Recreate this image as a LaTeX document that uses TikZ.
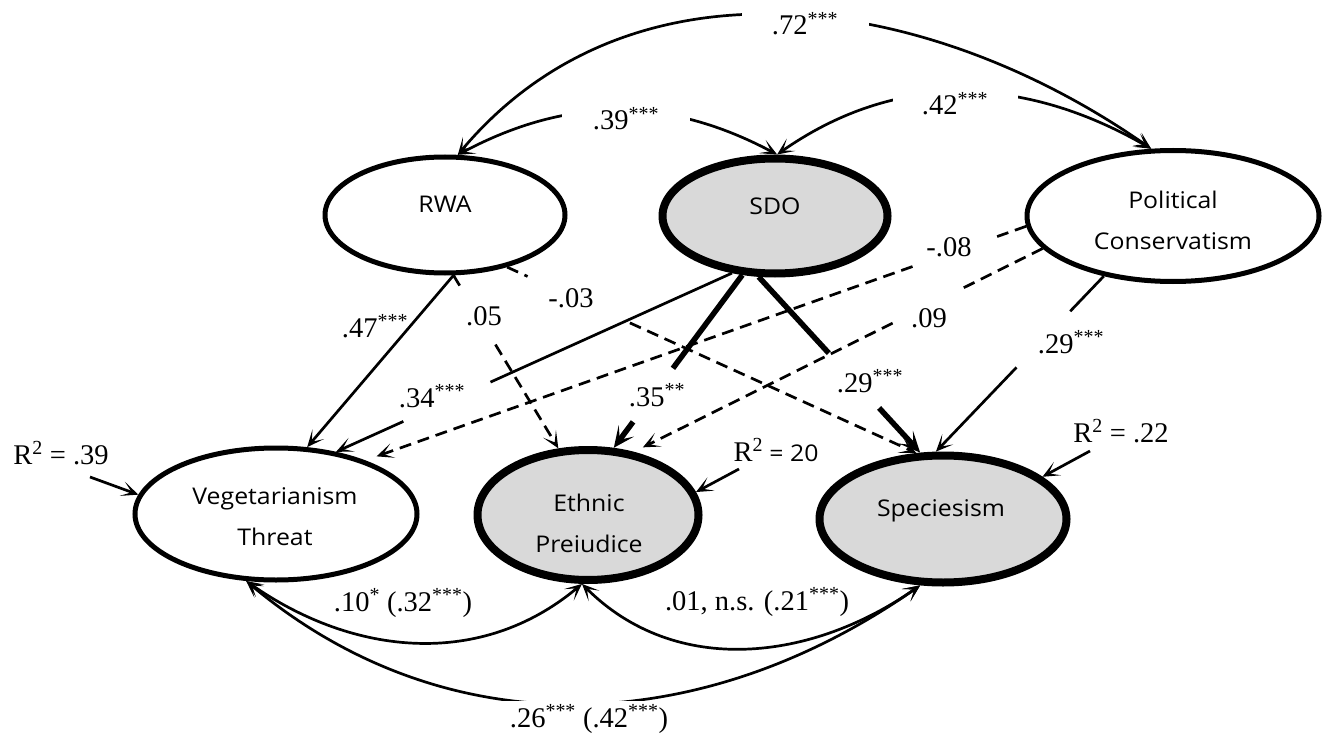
\documentclass[tikz,border=0pt]{standalone}
\usepackage{fontspec}
\setmainfont{Liberation Serif}
\newfontfamily\osans[FakeStretch=1.08]{Open Sans}
\usetikzlibrary{arrows.meta,calc,shapes.geometric}
\definecolor{shade}{HTML}{D9D9D9}
\newcommand{\sg}[1]{\textsuperscript{#1}}
\begin{document}
\begin{tikzpicture}[x=1pt,y=1pt,
  lat/.style={ellipse,draw,line width=5pt,fill=white,inner sep=0pt},
  latg/.style={lat,line width=8pt,fill=shade},
  vname/.style={font=\osans\fontsize{23}{41}\selectfont,align=center,anchor=base,inner sep=0pt},
  num/.style={font=\fontsize{28.5}{32}\selectfont,anchor=base,inner sep=0pt},
  gapnum/.style={num,fill=white,inner ysep=4pt},
  reg/.style={line width=2.7pt},
  regh/.style={reg,-{Stealth[length=17pt,width=15pt,inset=10pt]}},
  big/.style={line width=5.5pt},
  bigh/.style={big,-{Stealth[length=21pt,width=19pt,inset=11pt]}},
  dsh/.style={dash pattern=on 12pt off 7pt},
  cov/.style={line width=2.7pt,{Stealth[length=17pt,width=15pt,inset=10pt]}-{Stealth[length=17pt,width=15pt,inset=10pt]}}
]
\path[fill=white,use as bounding box] (0,0) rectangle (1331,-738);

% latent variables
\node[lat,minimum width=240pt,minimum height=116pt] (RWA) at (445,-215) {};
\node[latg,minimum width=225pt,minimum height=115pt] (SDO) at (775,-216) {};
\node[lat,minimum width=292pt,minimum height=131pt] (PC) at (1173,-216) {};
\node[lat,minimum width=282pt,minimum height=132pt] (VT) at (276,-514) {};
\node[latg,minimum width=221pt,minimum height=130pt] (EP) at (588,-515) {};
\node[latg,minimum width=247pt,minimum height=127pt] (SP) at (943,-519) {};

\node[vname] (RWAt) at (445,-213) {RWA};
\node[vname] (SDOt) at (775,-215) {SDO};
\node[vname] (PCt) at (1173,-250) {Political\\Conservatism};
\node[vname] (VTt) at (275,-545) {Vegetarianism\\Threat};
\node[vname] (EPt) at (589,-552) {Ethnic\\Preiudice};
\node[vname] (SPt) at (941,-516) {Speciesism};

% regression paths
\draw[regh] (RWA.278) -- (VT.65);
\draw[reg,dsh] (RWA.278) -- ($(RWA.278)!0.06!(EP.114)$);
\draw[regh,dsh] ($(RWA.278)!0.40!(EP.114)$) -- (EP.114);
\draw[reg,dsh] (RWA.320) -- ($(RWA.320)!0.05!(SP.112)$);
\draw[regh,dsh] ($(RWA.320)!0.30!(SP.112)$) -- (SP.112);
\draw[reg] (SDO.233) -- ($(SDO.233)!0.61!(VT.46)$);
\draw[regh] ($(SDO.233)!0.83!(VT.46)$) -- (VT.46);
\draw[big] (SDO.241) -- ($(SDO.241)!0.54!(EP.69)$);
\draw[bigh] ($(SDO.241)!0.85!(EP.69)$) -- (EP.69);
\draw[big] (SDO.255) -- ($(SDO.255)!0.434!(SP.109)$);
\draw[bigh] ($(SDO.255)!0.746!(SP.109)$) -- (SP.109);
\draw[reg] (PC.221) -- ($(PC.221)!0.20!(SP.96)$);
\draw[regh] ($(PC.221)!0.52!(SP.96)$) -- (SP.96);
\draw[reg,dsh] (PC.184) -- ($(PC.184)!0.044!(VT.31)$);
\draw[regh,dsh,shorten >=12pt] ($(PC.184)!0.172!(VT.31)$) -- (VT.31);
\draw[reg,dsh] (PC.194) -- ($(PC.194)!0.20!(EP.54)$);
\draw[regh,dsh,shorten >=10pt] ($(PC.194)!0.367!(EP.54)$) -- (EP.54);

% residual arrows
\coordinate (r1) at (90,-477);
\coordinate (r2) at (739,-469);
\coordinate (r3) at (1090,-451);
\draw[regh] (r1) -- (VT.172);
\draw[regh] (r2) -- (EP.12);
\draw[regh] (r3) -- (SP.23);

% covariances
\draw[cov] (RWA.78) to[out=50,in=145] (PC.108);
\draw[cov] (RWA.78) to[out=28,in=152] (SDO.88);
\draw[cov] (SDO.88) to[out=35,in=150] (PC.108);
\draw[cov] (VT.246) to[out=-35,in=-140] (EP.265);
\draw[cov] (EP.265) to[out=-45,in=-145] (SP.251);
\draw[cov] (VT.246) to[out=-40,in=-145] (SP.251);

% labels
\node[gapnum,minimum width=127pt] (l72) at (805,-35) {.72\sg{***}};
\node[gapnum,minimum width=128pt] (l39) at (626,-130) {.39\sg{***}};
\node[gapnum,minimum width=125pt] (l42) at (955,-115) {.42\sg{***}};
\node[num] (l47) at (375,-337) {.47\sg{***}};
\node[num] (l05) at (484,-325) {.05};
\node[num] (l03) at (571,-307) {-.03};
\node[num] (l08) at (949,-257) {-.08};
\node[num] (l09) at (929,-327) {.09};
\node[num] (l29b) at (1071,-353) {.29\sg{***}};
\node[num] (l34) at (432,-407) {.34\sg{***}};
\node[num] (l35) at (657,-406) {.35\sg{**}};
\node[num] (l29a) at (870,-392) {.29\sg{***}};
\node[num] (r1t) at (61,-464) {R\sg{2} = .39};
\node[num] (r2t) at (776,-461) {R\sg{2}{\osans\fontsize{23}{28}\selectfont\ = 20}};
\node[num] (r3t) at (1121,-442) {R\sg{2} = .22};
\node[num] (c1t) at (403,-611) {.10\sg{*} (.32\sg{***})};
\node[num] (c2t) at (757,-610) {.01, n.s. (.21\sg{***})};
\node[gapnum,minimum width=216pt] (c3t) at (589,-727) {.26\sg{***} (.42\sg{***})};
\end{tikzpicture}
\end{document}
